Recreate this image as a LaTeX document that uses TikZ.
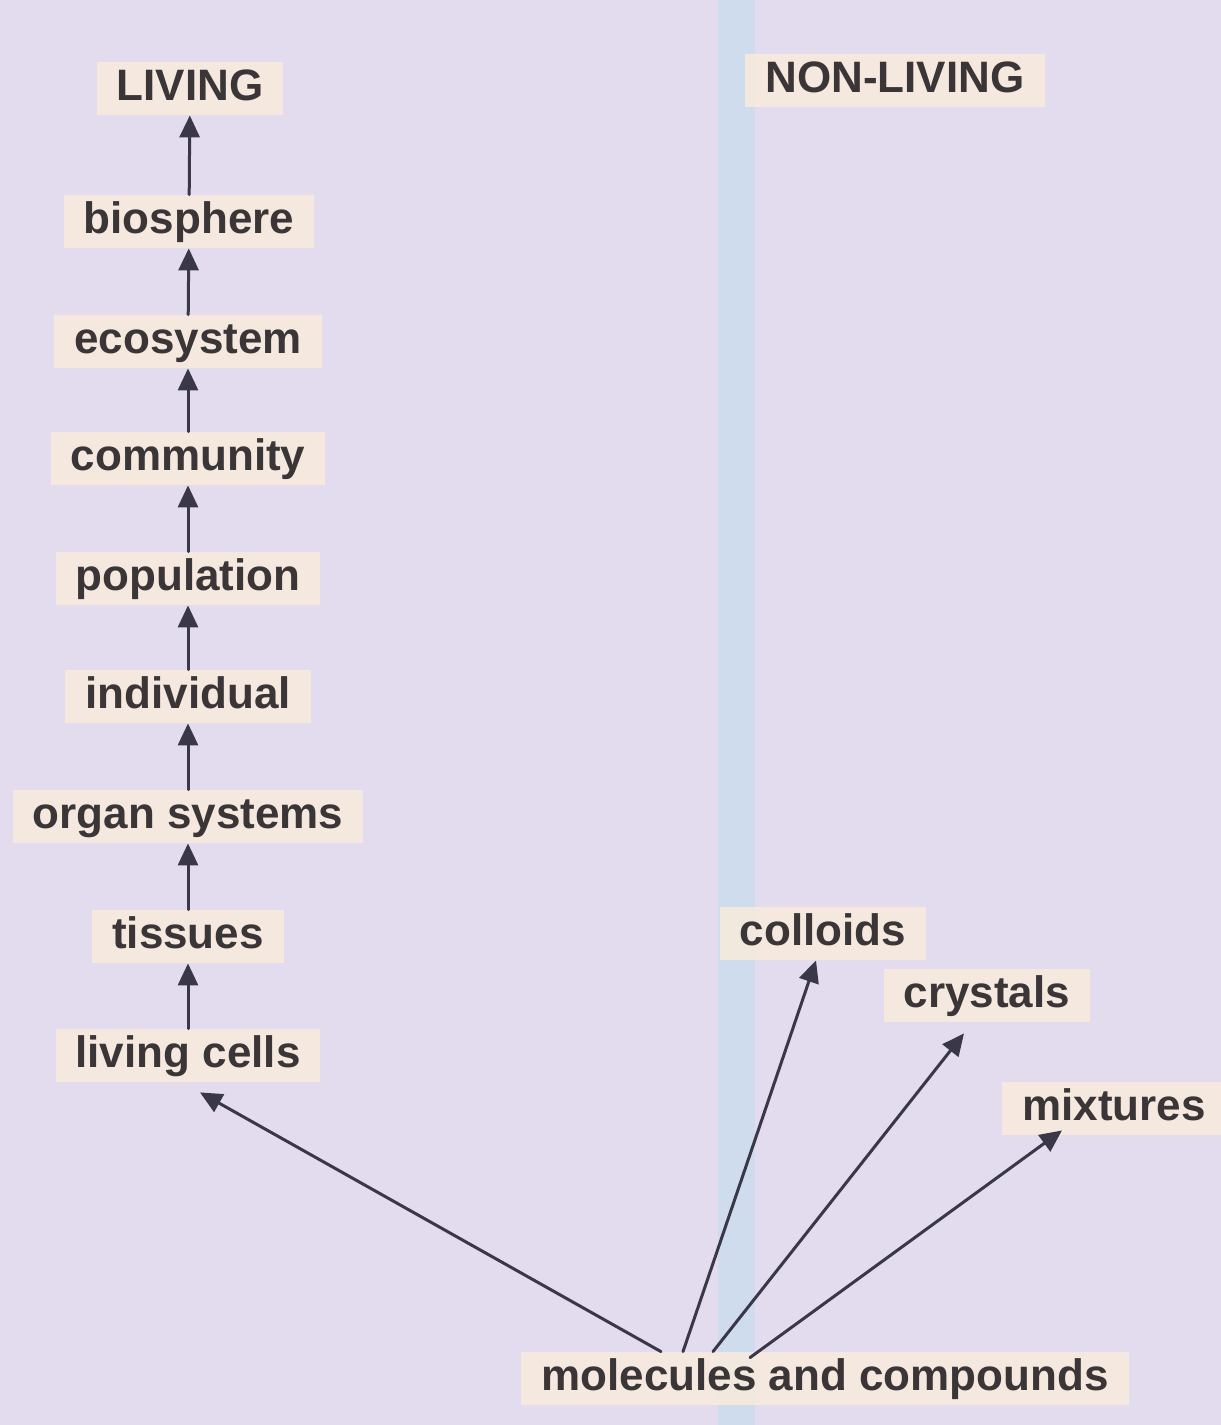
\documentclass[tikz,border=0pt]{standalone}
\usepackage{fontspec}
\setmainfont{Liberation Sans}
\usetikzlibrary{arrows.meta}
\definecolor{paper}{RGB}{226,220,238}
\definecolor{peach}{RGB}{250,235,219}
\definecolor{stripe}{RGB}{206,220,238}
\definecolor{ink}{RGB}{58,54,56}
\definecolor{arrowink}{RGB}{58,56,72}
\begin{document}
\begin{tikzpicture}[x=0.5pt, y=-0.5pt, line cap=round, line join=round,
    term/.style={anchor=base, fill=peach, fill opacity=0.8, text opacity=1, text=ink,
      inner xsep=10pt, inner ysep=2.5pt, text height=16.5pt, text depth=5pt,
      font=\fontsize{22}{26}\selectfont\bfseries},
    link/.style={draw=arrowink, line width=1.5pt, -{Triangle[length=11pt, width=10pt]}}]
  \useasboundingbox (0,0) rectangle (1221,1425);
  \fill[paper] (0,0) rectangle (1221,1425);
  \fill[stripe] (718,0) rectangle (755,1425);
  % living side
  \node[term] (living) at (190,100) {LIVING};
  \node[term] (biosphere) at (189,233) {biosphere};
  \node[term] (ecosystem) at (188,353) {ecosystem};
  \node[term] (community) at (188,470) {community};
  \node[term] (population) at (188,590) {population};
  \node[term] (individual) at (188,708) {individual};
  \node[term] (organs) at (188,828) {organ systems};
  \node[term] (tissues) at (188,948) {tissues};
  \node[term] (cells) at (188,1067) {living cells};
  % non-living side
  \node[term] (nonliving) at (895,92) {NON-LIVING};
  \node[term] (colloids) at (823,945) {colloids};
  \node[term] (crystals) at (987,1007) {crystals};
  \node[term] (mixtures) at (1114,1120) {mixtures};
  \node[term] (molecules) at (825,1390) {molecules and compounds};
  \draw[link] (biosphere) -- (living);
  \draw[link] (ecosystem) -- (biosphere);
  \draw[link] (community) -- (ecosystem);
  \draw[link] (population) -- (community);
  \draw[link] (individual) -- (population);
  \draw[link] (organs) -- (individual);
  \draw[link] (tissues) -- (organs);
  \draw[link] (cells) -- (tissues);
  \draw[link] ([xshift=-82pt]molecules.north) -- ([xshift=6pt, yshift=-5pt]cells.south);
  \draw[link] ([xshift=-71pt]molecules.north) -- ([xshift=-3.5pt]colloids.south);
  \draw[link] ([xshift=-56pt]molecules.north) -- ([xshift=-11.5pt, yshift=-5.5pt]crystals.south);
  \draw[link] ([xshift=-37.5pt, yshift=-3pt]molecules.north) -- ([xshift=-26pt, yshift=2.5pt]mixtures.south);
\end{tikzpicture}
\end{document}
